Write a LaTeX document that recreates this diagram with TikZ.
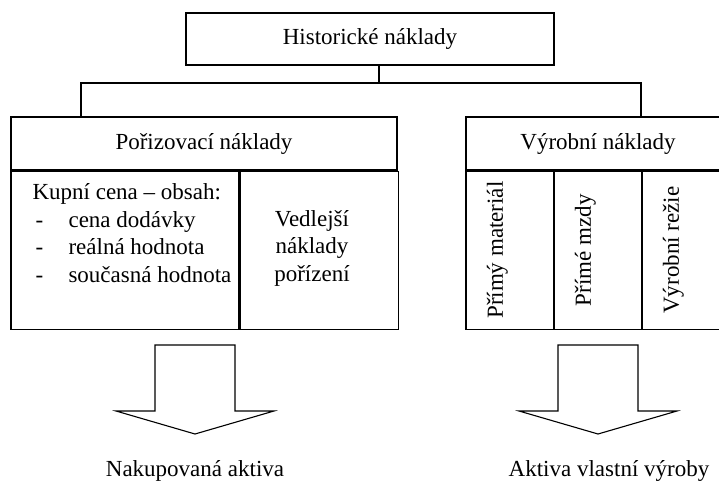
\documentclass[tikz,border=0pt]{standalone}
\usepackage{fontspec}
\setmainfont{Liberation Serif}
\usepackage{tikz}
\usetikzlibrary{calc}
\tikzset{
box/.style={draw, inner sep=0pt, minimum height=#1},
box/.default=53,
every node/.style={inner sep=0pt}
}

\begin{document}
\begin{tikzpicture}[x=1pt, y=-1pt, line width=1.1pt, font=\fontsize{23}{27}\selectfont]

\useasboundingbox (0,0) rectangle (719,482);
\clip (0,0) rectangle (719,482);

\node [box=52, minimum width=368] (hist) at (370,39) {Historické náklady};
\node [box, minimum width=386] (por) at (204,143.5) {Pořizovací náklady};
\node [box, minimum width=264] (vyr) at (598,143.5) {Výrobní náklady};

% spojnice
\coordinate (busl) at (81,83);
\coordinate (busm) at (379,83);
\coordinate (busr) at (641,83);
\draw (busm |- hist.south) -- (busm);
\draw (busl |- por.north) -- (busl) -- (busr) -- (busr |- vyr.north);

\node [box=158, minimum width=228, anchor=north west] (kup) at (por.south west) {};
\node [box=158, minimum width=158, anchor=north west] (ved) at (kup.north east) {};

\node [anchor=base west] (kupni) at (32,199) {Kupní cena – obsah:};
\foreach \y/\t in {227/cena dodávky, 254/reálná hodnota, 282/současná hodnota} {
  \node [anchor=base west] at (35,\y) {-};
  \node [anchor=base west] at (68,\y) {\t};
}
\foreach \y/\t in {226/Vedlejší, 253/náklady, 281/pořízení} {\node [anchor=base] at (312,\y) {\t};}

\foreach \t [count=\i from 0] in {Přímý materiál, Přímé mzdy, Výrobní režie} {
  \node [box=158, minimum width=88, anchor=north west] (c\i) at ($(vyr.south west)+(\i*88,0)$) {};
  \node [rotate=90, anchor=base] at ($(c\i.west)+(37.5,0)$) {\t};
}

% sipky
\foreach \x in {195,598} {\draw (\x-40,345) -- (\x+40,345) -- (\x+40,411) -- (\x+79,411) -- (\x,434) -- (\x-79,411) -- (\x-40,411) -- cycle;}

\node [anchor=base] (nak) at (195,476) {Nakupovaná aktiva};
\node [anchor=base] (vlast) at (609,476) {Aktiva vlastní výroby};

\end{tikzpicture}
\end{document}
